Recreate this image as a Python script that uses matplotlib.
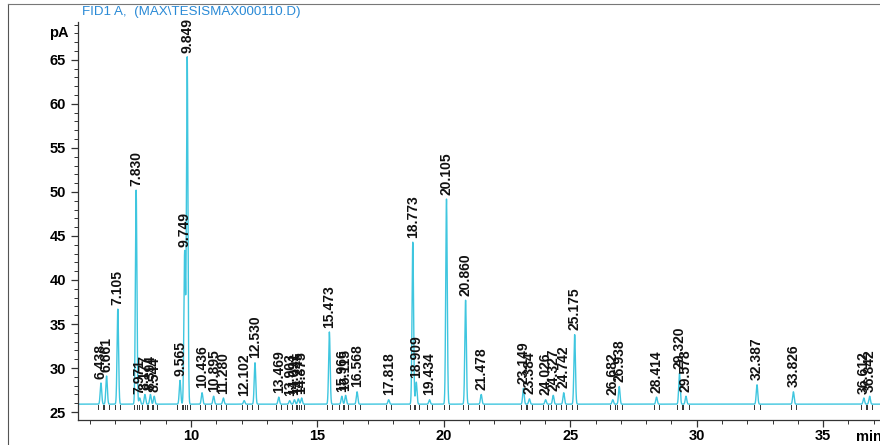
import numpy as np
import matplotlib
matplotlib.use("Agg")
import matplotlib.pyplot as plt
from matplotlib.ticker import MultipleLocator
from matplotlib.lines import Line2D

plt.rcParams['font.family'] = ['Liberation Sans', 'DejaVu Sans']

# Retention times (min) and peak apex heights (pA)
retention_times = [6.438, 6.661, 7.105, 7.830, 7.971, 8.177, 8.394, 8.544,
                   9.565, 9.749, 9.849, 10.436, 10.895, 11.280, 12.102, 12.530,
                   13.469, 13.903, 14.091, 14.245, 14.375, 15.473, 15.966, 16.115,
                   16.568, 17.818, 18.773, 18.909, 19.434, 20.105, 20.860, 21.478,
                   23.149, 23.384, 24.026, 24.327, 24.742, 25.175, 26.682, 26.938,
                   28.414, 29.320, 29.578, 32.387, 33.826, 36.612, 36.842]
peak_heights = [28.3, 29.1, 36.7, 50.2, 26.6, 27.0, 27.0, 26.8,
                28.6, 43.2, 65.3, 27.2, 26.8, 26.6, 26.3, 30.6,
                26.7, 26.3, 26.4, 26.5, 26.6, 34.1, 26.8, 26.9,
                27.3, 26.4, 44.3, 28.4, 26.4, 49.2, 37.7, 27.0,
                27.7, 26.5, 26.4, 26.9, 27.2, 33.8, 26.4, 27.9,
                26.7, 29.4, 26.8, 28.1, 27.3, 26.6, 26.8]
baseline_level = 25.9

title_text = "FID1 A,  (MAX\\TESISMAX000110.D)"
trace_color = "#3fc6df"
title_color = "#2a8ad6"

# Build the detector trace as a sum of narrow Gaussian peaks on a flat baseline
t = np.arange(5.4, 37.5, 0.002)
sigma = 0.03
signal = np.full_like(t, baseline_level)
for rt, h in zip(retention_times, peak_heights):
    signal += (h - baseline_level) * np.exp(-0.5 * ((t - rt) / sigma) ** 2)

fig = plt.figure(figsize=(8.8, 4.45), dpi=100)
ax = fig.add_axes([78 / 880, 25 / 445, 1 - 78 / 880 + 0.01, 398 / 445])
ax.plot(t, signal, color=trace_color, lw=1.0)

# Integration start/stop markers beneath each peak
for rt in retention_times:
    for dx in (-0.1, 0.1):
        ax.plot([rt + dx, rt + dx], [baseline_level - 0.6, baseline_level - 0.05],
                color="#333333", lw=0.7)

# Retention-time annotations above each apex
for rt, h in zip(retention_times, peak_heights):
    ax.text(rt, h + 0.5, f"{rt:.3f}", rotation=90, ha="center", va="bottom",
            fontsize=10, fontweight="bold", color="#111111")

ax.set_xlim(5.53, 37.6)
ax.set_ylim(24.1, 69.3)
ax.spines['top'].set_visible(False)
ax.spines['right'].set_visible(False)
for s in ("left", "bottom"):
    ax.spines[s].set_color("#333333")
    ax.spines[s].set_linewidth(0.9)

ax.xaxis.set_major_locator(MultipleLocator(5))
ax.xaxis.set_minor_locator(MultipleLocator(1))
ax.yaxis.set_major_locator(MultipleLocator(5))
ax.yaxis.set_minor_locator(MultipleLocator(1))
ax.tick_params(axis="both", which="major", direction="out", length=5, width=0.9,
               color="#333333", labelsize=10.5)
ax.tick_params(axis="x", which="major", pad=1.5)
ax.tick_params(axis="both", which="minor", direction="out", length=3, width=0.7,
               color="#333333")
for lbl in ax.get_xticklabels() + ax.get_yticklabels():
    lbl.set_fontweight("bold")

ax.text(-0.012, (68 - 24.1) / (69.3 - 24.1), "pA", transform=ax.transAxes,
        ha="right", va="center", fontsize=10.5, fontweight="bold")
ax.text(0.975, -0.024, "min", transform=ax.transAxes, ha="center", va="top",
        fontsize=10.5, fontweight="bold")

fig.text(82 / 880, 1 - 12 / 445, title_text, ha="left", va="center",
         fontsize=9.6, color=title_color)

# Page border lines
fig.add_artist(Line2D([8 / 880, 8 / 880], [0, 1 - 4 / 445], transform=fig.transFigure,
                      color="#555555", lw=0.8))
fig.add_artist(Line2D([8 / 880, 1], [1 - 4 / 445, 1 - 4 / 445], transform=fig.transFigure,
                      color="#777777", lw=0.8))

fig.savefig("out.png", dpi=100, facecolor="white")
